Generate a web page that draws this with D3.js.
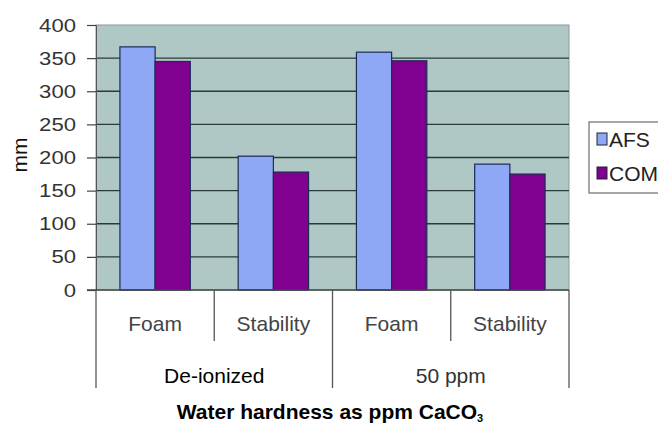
<!DOCTYPE html>
<html><head><meta charset="utf-8">
<script src="https://cdn.jsdelivr.net/npm/d3@7"></script>
<style>body{margin:0;background:#fff}svg{display:block;font-family:"Liberation Sans",Arial,sans-serif}</style>
</head><body><svg id="c" width="658" height="426"></svg>
<script>
const groups = ["De-ionized", "50 ppm"];
const measures = ["Foam", "Stability"];
const categories = ["Foam|De-ionized", "Stability|De-ionized", "Foam|50 ppm", "Stability|50 ppm"];
const seriesNames = ["AFS", "COM"];
const afsValues = [367, 202, 359, 190];
const comValues = [345, 178, 346, 175];
const yTicks = [0, 50, 100, 150, 200, 250, 300, 350, 400];
const colors = ["#8fa8f6", "#80008f"];

const svg = d3.select("#c");
const L = 96, R = 569, T = 25, B = 290;
const x = d3.scaleBand().domain(categories).range([L, R]).padding(0);
const xs = d3.scaleBand().domain(seriesNames).range([0, x.bandwidth()]).paddingInner(0).paddingOuter(0.68);
const y = d3.scaleLinear().domain([0, 400]).range([B, T]);

svg.append("rect").attr("x", L).attr("y", T).attr("width", R - L).attr("height", B - T)
  .attr("fill", "#b0c8c5").attr("stroke", "#8a9a98").attr("stroke-width", 1);

// gridlines
svg.append("g").selectAll("line").data(yTicks.filter(d => d > 0 && d < 400)).join("line")
  .attr("x1", L).attr("x2", R).attr("y1", d => y(d)).attr("y2", d => y(d))
  .attr("stroke", "#2a3a3a").attr("stroke-width", 1.3);

// y axis
const ya = svg.append("g").attr("transform", `translate(${L},0)`)
  .call(d3.axisLeft(y).tickValues(yTicks).tickSize(9).tickPadding(11));
ya.select(".domain").attr("stroke", "#555");
ya.selectAll(".tick line").attr("stroke", "#444").attr("stroke-width", 1.2);
ya.selectAll("text").attr("font-size", 19).attr("fill", "#333")
  .attr("font-family", "'Liberation Sans', Arial, sans-serif")
  .attr("textLength", d => String(d).length * 12.3).attr("lengthAdjust", "spacingAndGlyphs");

// bars
const data = [];
categories.forEach((c, i) => {
  data.push({c, s: "AFS", v: afsValues[i]});
  data.push({c, s: "COM", v: comValues[i]});
});
svg.append("g").selectAll("rect").data(data).join("rect")
  .attr("x", d => x(d.c) + xs(d.s)).attr("width", xs.bandwidth())
  .attr("y", d => y(d.v)).attr("height", d => B - y(d.v))
  .attr("fill", d => colors[seriesNames.indexOf(d.s)])
  .attr("stroke", "#1c2c55").attr("stroke-width", 1.2);

// baseline
svg.append("line").attr("x1", L - 9).attr("x2", R).attr("y1", B).attr("y2", B).attr("stroke", "#444").attr("stroke-width", 1.3);

// category axis
const cat = svg.append("g");
categories.forEach((c, i) => {
  const x0 = x(c);
  const lineEnd = (i % 2 === 0) ? 388 : 341;
  cat.append("line").attr("x1", x0).attr("x2", x0).attr("y1", B).attr("y2", lineEnd)
    .attr("stroke", "#555").attr("stroke-width", 1.3);
  cat.append("text").attr("x", x0 + x.bandwidth() / 2).attr("y", 331).attr("text-anchor", "middle")
    .attr("font-size", 21).attr("fill", "#444").text(c.split("|")[0]);
});
cat.append("line").attr("x1", R).attr("x2", R).attr("y1", B).attr("y2", 388).attr("stroke", "#555").attr("stroke-width", 1.3);
groups.forEach((g, gi) => {
  const cx = (x(categories[gi * 2]) + x(categories[gi * 2 + 1]) + x.bandwidth()) / 2;
  cat.append("text").attr("x", cx).attr("y", 383).attr("text-anchor", "middle")
    .attr("font-size", 21).attr("fill", gi === 0 ? "#000" : "#333").text(g);
});

// y title
svg.append("text").attr("transform", "translate(27,155) rotate(-90)").attr("text-anchor", "middle")
  .attr("font-size", 21).attr("fill", "#111").text("mm");

// x title
const tt = svg.append("text").attr("x", 330).attr("y", 419).attr("text-anchor", "middle")
  .attr("font-size", 21).attr("font-weight", "bold").attr("fill", "#000");
tt.append("tspan").text("Water hardness as ppm CaCO");
tt.append("tspan").attr("font-size", 11).attr("dy", 3).text("3");

// legend
const lg = svg.append("g");
lg.append("rect").attr("x", 589).attr("y", 122).attr("width", 90).attr("height", 71)
  .attr("fill", "#fff").attr("stroke", "#777").attr("stroke-width", 1.3);
seriesNames.forEach((s, i) => {
  const yy = 139 + i * 34;
  lg.append("rect").attr("x", 597).attr("y", yy - 6).attr("width", 10).attr("height", 12)
    .attr("fill", colors[i]).attr("stroke", "#223").attr("stroke-width", 1);
  lg.append("text").attr("x", 609).attr("y", yy + 8).attr("font-size", 21).attr("fill", "#222").text(s);
});
</script></body></html>
